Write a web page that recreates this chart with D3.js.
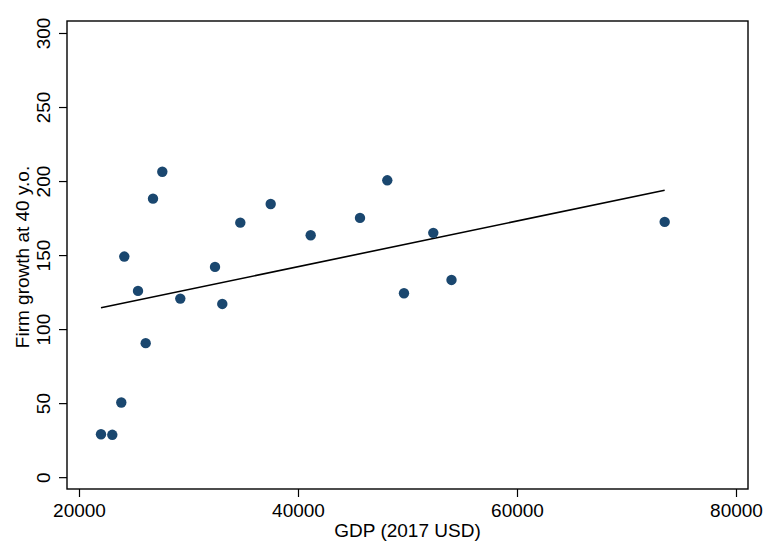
<!DOCTYPE html>
<html><head><meta charset="utf-8">
<script src="https://cdn.jsdelivr.net/npm/d3@7"></script>
<style>
body{margin:0;background:#fff;}
svg{display:block;font-family:"Liberation Sans",Arial,Helvetica,sans-serif;}
</style></head>
<body>
<svg id="chart" width="765" height="541"></svg>
<script>
const gdp = [22009, 23041, 23863, 24137, 25388, 26091, 26758, 27607, 29251, 32420,
             33086, 34730, 37506, 41159, 45661, 48154, 49679, 52355, 54017, 73486];
const growth = [29.0, 28.6, 50.4, 149.0, 125.8, 90.5, 188.1, 206.3, 120.6, 142.0,
                117.0, 171.9, 184.5, 163.4, 175.1, 200.5, 124.2, 165.0, 133.2, 172.4];
// fitted line endpoints
const fitGdp = [22009, 73486];
const fitGrowth = [114.4, 193.8];
const xTicks = [20000, 40000, 60000, 80000];
const yTicks = [0, 50, 100, 150, 200, 250, 300];
const xTitle = "GDP (2017 USD)";
const yTitle = "Firm growth at 40 y.o.";

const svg = d3.select("#chart");
const L = 67, R = 748, T = 21, B = 489;
const x = d3.scaleLinear().domain([18904, 81096]).range([L, R]);
const y = d3.scaleLinear().domain([-8.0, 308.1]).range([B, T]);
const fontSize = 19;

// plot box
svg.append("rect").attr("x", L).attr("y", T).attr("width", R - L).attr("height", B - T)
  .attr("fill", "none").attr("stroke", "#000").attr("stroke-width", 1.4);

// x axis
const gx = svg.append("g").attr("transform", `translate(0,${B})`)
  .call(d3.axisBottom(x).tickValues(xTicks).tickFormat(d3.format("d")).tickSize(8).tickSizeOuter(0));
gx.select(".domain").remove();
gx.selectAll(".tick line").attr("stroke", "#000").attr("stroke-width", 1.2);
gx.selectAll(".tick text").attr("y", 28).attr("dy", 0).attr("fill", "#000")
  .style("font-size", fontSize + "px").style("font-family", "Liberation Sans, Arial, sans-serif");

// y axis
const gy = svg.append("g").attr("transform", `translate(${L},0)`)
  .call(d3.axisLeft(y).tickValues(yTicks).tickFormat(d3.format("d")).tickSize(8).tickSizeOuter(0));
gy.select(".domain").remove();
gy.selectAll(".tick line").attr("stroke", "#000").attr("stroke-width", 1.2);
gy.selectAll(".tick text").attr("x", 0).attr("y", 0).attr("dy", 0)
  .attr("transform", "translate(-17,0) rotate(-90)").attr("text-anchor", "middle").attr("fill", "#000")
  .style("font-size", fontSize + "px").style("font-family", "Liberation Sans, Arial, sans-serif");

// titles
svg.append("text").attr("x", (L + R) / 2).attr("y", 537).attr("text-anchor", "middle")
  .style("font-size", fontSize + "px").attr("fill", "#000").text(xTitle);
svg.append("text").attr("transform", `translate(29,${(T + B) / 2 + 2}) rotate(-90)`).attr("text-anchor", "middle")
  .style("font-size", fontSize + "px").attr("fill", "#000").text(yTitle);

// fitted line
svg.append("path").datum(fitGdp.map((v, i) => [v, fitGrowth[i]]))
  .attr("d", d3.line().x(d => x(d[0])).y(d => y(d[1])))
  .attr("fill", "none").attr("stroke", "#000").attr("stroke-width", 1.6);

// points
svg.append("g").selectAll("circle").data(gdp).join("circle")
  .attr("cx", d => x(d)).attr("cy", (d, i) => y(growth[i])).attr("r", 5.2)
  .attr("fill", "#1a476f");
</script>
</body></html>
